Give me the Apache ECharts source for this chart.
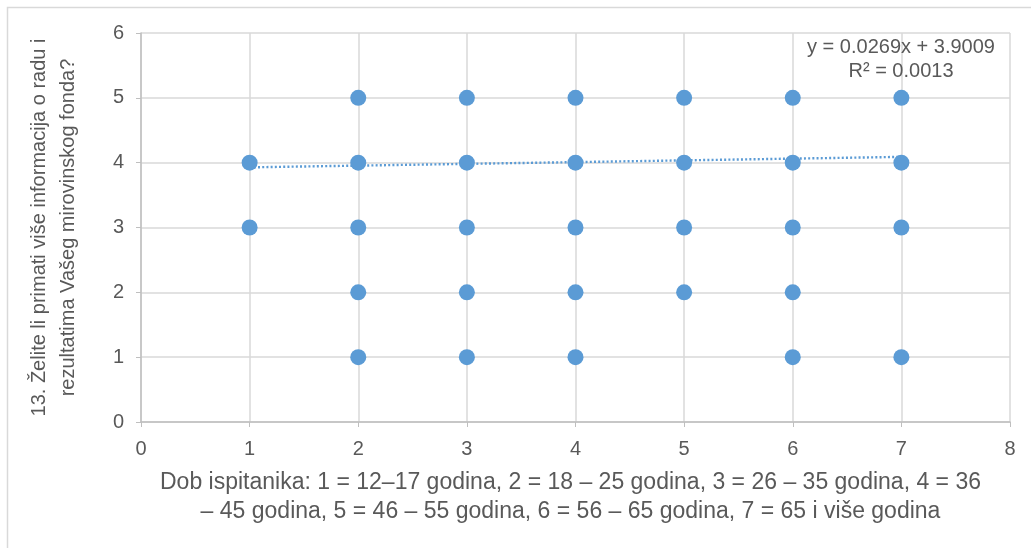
<!DOCTYPE html>
<html><head><meta charset="utf-8">
<script src="https://cdn.jsdelivr.net/npm/echarts@6/dist/echarts.min.js"></script>
<style>html,body{margin:0;padding:0;background:#fff}#c{width:1031px;height:548px}</style>
</head><body><div id="c"></div>
<script>
const xValues = [1,1, 2,2,2,2,2, 3,3,3,3,3, 4,4,4,4,4, 5,5,5,5, 6,6,6,6,6, 7,7,7,7];
const yValues = [4,3, 5,4,3,2,1, 5,4,3,2,1, 5,4,3,2,1, 5,4,3,2, 5,4,3,2,1, 5,4,3,1];
const trendX = [1, 7];
const trendY = [3.9278, 4.0892];
const xTicks = ['0','1','2','3','4','5','6','7','8'];
const yTicks = ['0','1','2','3','4','5','6'];
const equationText = 'y = 0.0269x + 3.9009\nR² = 0.0013';
const xTitle = 'Dob ispitanika: 1 = 12–17 godina, 2 = 18 – 25 godina, 3 = 26 – 35 godina, 4 = 36\n– 45 godina, 5 = 46 – 55 godina, 6 = 56 – 65 godina, 7 = 65 i više godina';
const yTitle = '13. Želite li primati više informacija o radu i\nrezultatima Vašeg mirovinskog fonda?';

const FONT = 'Liberation Sans, sans-serif';
const chart = echarts.init(document.getElementById('c'));
chart.setOption({
  animation: false,
  textStyle: {fontFamily: FONT},
  graphic: [
    {type:'rect', shape:{x:7.5,y:7.5,width:1100,height:600}, style:{fill:'none',stroke:'#d9d9d9',lineWidth:1.5}, z:-10, silent:true},
    {type:'text', x: 901, y: 35, z:10, style:{text: equationText, fill:'#595959', font:'20px '+FONT, align:'center', lineHeight:24}}
  ],
  grid: {left:141, right:21, top:33, bottom:126},
  xAxis: {
    type:'value', min:0, max:8, interval:1,
    axisLine:{show:true, lineStyle:{color:'#bfbfbf', width:1.5}},
    axisTick:{show:true, length:5, lineStyle:{color:'#bfbfbf'}},
    splitLine:{show:true, lineStyle:{color:'#d9d9d9', width:1.5}},
    axisLabel:{show:true, color:'#595959', fontFamily: FONT, fontSize:20, margin:17, formatter:(v)=>xTicks[v]},
    name: xTitle, nameLocation:'middle', nameGap:46,
    nameTextStyle:{color:'#595959', fontSize:23, lineHeight:29, padding:[0,10,0,0]}
  },
  yAxis: {
    type:'value', min:0, max:6, interval:1,
    axisLine:{show:true, lineStyle:{color:'#bfbfbf', width:1.5}},
    axisTick:{show:true, length:5, lineStyle:{color:'#bfbfbf'}},
    splitLine:{show:true, lineStyle:{color:'#d9d9d9', width:1.5}},
    axisLabel:{show:true, color:'#595959', fontFamily: FONT, fontSize:20, margin:17, formatter:(v)=>yTicks[v]},
    name: yTitle, nameLocation:'middle', nameGap:58, nameRotate:90,
    nameTextStyle:{color:'#595959', fontSize:20, lineHeight:29}
  },
  series: [
    {type:'line', data: trendX.map((x,i)=>[x, trendY[i]]), showSymbol:false, symbol:'none',
     lineStyle:{color:'#5b9bd5', width:2.4, type:[2,2.2]}, z:2},
    {type:'scatter', data: xValues.map((x,i)=>[x, yValues[i]]), symbol:'circle', symbolSize:16,
     itemStyle:{color:'#5b9bd5', opacity:1}, z:3}
  ]
});
</script></body></html>
